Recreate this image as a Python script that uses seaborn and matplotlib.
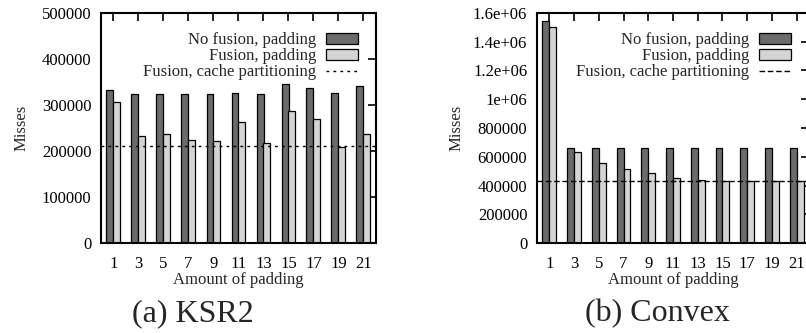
import matplotlib
matplotlib.use("Agg")
import matplotlib.pyplot as plt
import seaborn as sns
import pandas as pd
from matplotlib.patches import Patch
from matplotlib.lines import Line2D

padding = [1, 3, 5, 7, 9, 11, 13, 15, 17, 19, 21]
series_names = ["No fusion, padding", "Fusion, padding"]
line_name = "Fusion, cache partitioning"

ksr2_nofusion = [332000, 323500, 324200, 325000, 324200, 326300, 325000, 346600, 337200, 327000, 340800]
ksr2_fusion = [307500, 232300, 235900, 223600, 220700, 262000, 217800, 288000, 268500, 209100, 237300]
ksr2_partition = 210600

convex_nofusion = [1542000, 662000, 662000, 662000, 662000, 662000, 662000, 662000, 657600, 662000, 662000]
convex_fusion = [1500400, 634400, 558000, 514000, 484000, 453800, 435300, 430700, 430700, 430700, 430700]
convex_partition = 428400

ksr2_yticks = [0, 100000, 200000, 300000, 400000, 500000]
ksr2_ylabels = ["0", "100000", "200000", "300000", "400000", "500000"]
convex_yticks = [0, 200000, 400000, 600000, 800000, 1000000, 1200000, 1400000, 1600000]
convex_ylabels = ["0", "200000", "400000", "600000", "800000", "1e+06", "1.2e+06", "1.4e+06", "1.6e+06"]

captions = ["(a) KSR2", "(b) Convex"]

sns.set_theme(style="white")
plt.rcParams["font.family"] = ["Liberation Serif", "DejaVu Serif"]

dark = "#6b6b6b"
light = "#d4d4d4"
fs = 12

fig = plt.figure(figsize=(8.06, 3.33), dpi=100)
ax1 = fig.add_axes([101 / 806, 90 / 333, 275 / 806, 230 / 333])
ax2 = fig.add_axes([537 / 806, 90 / 333, 272 / 806, 230 / 333])

panels = [
    (ax1, ksr2_nofusion, ksr2_fusion, ksr2_partition, ksr2_yticks, ksr2_ylabels, (0, 500000), (0, (2, 3))),
    (ax2, convex_nofusion, convex_fusion, convex_partition, convex_yticks, convex_ylabels, (0, 1600000), (0, (4, 2))),
]

for ax, nf, fu, part, yt, yl, ylim, dash in panels:
    df = pd.DataFrame({
        "pad": padding * 2,
        "misses": nf + fu,
        "series": [series_names[0]] * len(padding) + [series_names[1]] * len(padding),
    })
    sns.barplot(data=df, x="pad", y="misses", hue="series", native_scale=True,
                palette=[dark, light], width=0.56, saturation=1, errorbar=None,
                edgecolor="black", linewidth=0.9, legend=False, ax=ax)
    ax.axhline(part, color="black", linewidth=1.0, linestyle=dash, zorder=5)
    ax.set_xlim(0, 22)
    ax.set_ylim(*ylim)
    ax.set_xticks(padding)
    ax.set_xticklabels([str(p) for p in padding])
    ax.set_yticks(yt)
    ax.set_yticklabels(yl)
    ax.tick_params(direction="in", length=6, width=1.2, top=True, right=True,
                   labelsize=fs, colors="black")
    ax.tick_params(axis="x", pad=9)
    ax.tick_params(axis="y", pad=7)
    for s in ax.spines.values():
        s.set_color("black")
        s.set_linewidth(1.5)
    ax.set_xlabel("Amount of padding", fontsize=fs, labelpad=0)
    ax.set_ylabel("Misses", fontsize=fs, labelpad=9 if ax is ax1 else 6)
    handles = [
        Patch(facecolor=dark, edgecolor="black", linewidth=0.9),
        Patch(facecolor=light, edgecolor="black", linewidth=0.9),
        Line2D([0], [0], color="black", linewidth=1.0, linestyle=dash),
    ]
    ax.legend(handles, series_names + [line_name], loc="upper right",
              markerfirst=False, frameon=False, fontsize=fs,
              handlelength=1.9, labelspacing=0.0, handletextpad=0.6,
              borderaxespad=0.7, bbox_to_anchor=(1, 0.995))

fig.text(193 / 806, 1 - 314 / 333, captions[0], ha="center", va="center", fontsize=23)
fig.text(657 / 806, 1 - 314 / 333, captions[1], ha="center", va="center", fontsize=23)

fig.savefig("out.png", dpi=100)
